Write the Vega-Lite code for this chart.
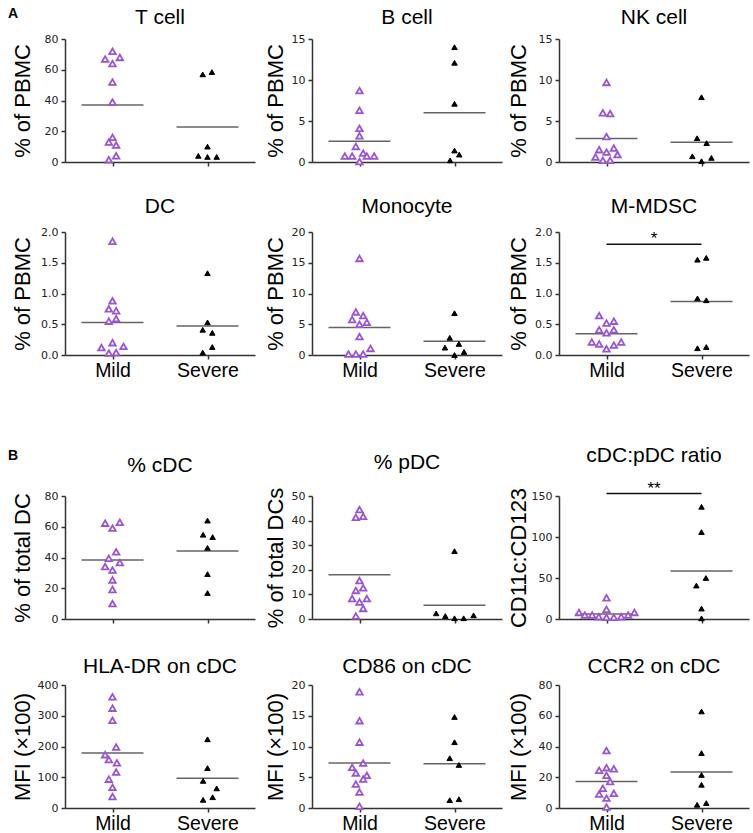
{
"$schema": "https://vega.github.io/schema/vega-lite/v6.json",
"padding": {"left": 7, "top": 7, "right": 2, "bottom": 0},
"config": {
  "view": {"stroke": null},
  "font": "Liberation Sans",
  "title": {"font": "Liberation Sans", "fontSize": 21, "fontWeight": "normal", "color": "#000"},
  "axis": {"domainColor": "#333", "domainWidth": 1.5, "tickColor": "#333", "tickWidth": 1.5, "tickSize": 4, "grid": false,
           "labelFont": "DejaVu Sans", "labelFontSize": 11, "labelColor": "#222",
           "titleFont": "Liberation Sans", "titleFontSize": 22, "titleFontWeight": "normal", "titleColor": "#000"},
  "axisX": {"labelFont": "Liberation Sans", "labelFontSize": 19.5, "labelColor": "#000", "labelPadding": 2, "labelAngle": 0},
  "axisY": {"titleAngle": -90, "titleAlign": "center", "titleBaseline": "middle", "titleY": 61.5, "labelPadding": 3}
},
"datasets": {
  "pts": [
    {"p":"T cell","g":"Mild","v":72,"j":0},{"p":"T cell","g":"Mild","v":67,"j":-2},{"p":"T cell","g":"Mild","v":68,"j":2},{"p":"T cell","g":"Mild","v":64,"j":0},{"p":"T cell","g":"Mild","v":52,"j":0},{"p":"T cell","g":"Mild","v":39,"j":0},{"p":"T cell","g":"Mild","v":16,"j":0},{"p":"T cell","g":"Mild","v":13,"j":-1},{"p":"T cell","g":"Mild","v":11,"j":1},{"p":"T cell","g":"Mild","v":4,"j":1},{"p":"T cell","g":"Mild","v":1.5,"j":-1},
    {"p":"T cell","g":"Severe","v":57,"j":-1.3},{"p":"T cell","g":"Severe","v":58.5,"j":1.2},{"p":"T cell","g":"Severe","v":10,"j":0},{"p":"T cell","g":"Severe","v":4,"j":-2.5},{"p":"T cell","g":"Severe","v":3.3,"j":0},{"p":"T cell","g":"Severe","v":3.3,"j":2.5},
    {"p":"B cell","g":"Mild","v":8.7,"j":0},{"p":"B cell","g":"Mild","v":6.3,"j":0},{"p":"B cell","g":"Mild","v":4.1,"j":0},{"p":"B cell","g":"Mild","v":3.2,"j":0},{"p":"B cell","g":"Mild","v":1.9,"j":-1},{"p":"B cell","g":"Mild","v":0.72,"j":-4},{"p":"B cell","g":"Mild","v":0.72,"j":-2},{"p":"B cell","g":"Mild","v":1.08,"j":1},{"p":"B cell","g":"Mild","v":0.72,"j":2},{"p":"B cell","g":"Mild","v":0.72,"j":4},{"p":"B cell","g":"Mild","v":0.05,"j":0},
    {"p":"B cell","g":"Severe","v":14,"j":0},{"p":"B cell","g":"Severe","v":12.1,"j":0},{"p":"B cell","g":"Severe","v":7.1,"j":0},{"p":"B cell","g":"Severe","v":1.4,"j":0},{"p":"B cell","g":"Severe","v":0.9,"j":1.3},{"p":"B cell","g":"Severe","v":0.2,"j":-1.2},
    {"p":"NK cell","g":"Mild","v":9.7,"j":0},{"p":"NK cell","g":"Mild","v":6.0,"j":-1},{"p":"NK cell","g":"Mild","v":5.9,"j":1},{"p":"NK cell","g":"Mild","v":3.1,"j":0},{"p":"NK cell","g":"Mild","v":1.5,"j":-2},{"p":"NK cell","g":"Mild","v":1.2,"j":0},{"p":"NK cell","g":"Mild","v":1.7,"j":2},{"p":"NK cell","g":"Mild","v":0.6,"j":-3},{"p":"NK cell","g":"Mild","v":0.9,"j":3},{"p":"NK cell","g":"Mild","v":0.2,"j":-1},{"p":"NK cell","g":"Mild","v":0.2,"j":1},
    {"p":"NK cell","g":"Severe","v":7.9,"j":0},{"p":"NK cell","g":"Severe","v":2.9,"j":-1.2},{"p":"NK cell","g":"Severe","v":2.3,"j":1.4},{"p":"NK cell","g":"Severe","v":0.7,"j":-2.5},{"p":"NK cell","g":"Severe","v":0.5,"j":2.7},{"p":"NK cell","g":"Severe","v":0.1,"j":0},
    {"p":"DC","g":"Mild","v":1.85,"j":0},{"p":"DC","g":"Mild","v":0.88,"j":0},{"p":"DC","g":"Mild","v":0.75,"j":-1},{"p":"DC","g":"Mild","v":0.72,"j":1},{"p":"DC","g":"Mild","v":0.55,"j":-1},{"p":"DC","g":"Mild","v":0.59,"j":1},{"p":"DC","g":"Mild","v":0.2,"j":0},{"p":"DC","g":"Mild","v":0.12,"j":-3},{"p":"DC","g":"Mild","v":0.14,"j":3},{"p":"DC","g":"Mild","v":0.03,"j":-1},{"p":"DC","g":"Mild","v":0.04,"j":1},
    {"p":"DC","g":"Severe","v":1.33,"j":0},{"p":"DC","g":"Severe","v":0.53,"j":0},{"p":"DC","g":"Severe","v":0.41,"j":-1.3},{"p":"DC","g":"Severe","v":0.36,"j":1.3},{"p":"DC","g":"Severe","v":0.13,"j":1.3},{"p":"DC","g":"Severe","v":0.04,"j":-1.3},
    {"p":"Monocyte","g":"Mild","v":15.7,"j":0},{"p":"Monocyte","g":"Mild","v":7.0,"j":-1},{"p":"Monocyte","g":"Mild","v":6.4,"j":1},{"p":"Monocyte","g":"Mild","v":5.76,"j":-2},{"p":"Monocyte","g":"Mild","v":5.0,"j":0},{"p":"Monocyte","g":"Mild","v":5.3,"j":2},{"p":"Monocyte","g":"Mild","v":3.0,"j":0},{"p":"Monocyte","g":"Mild","v":1.07,"j":3},{"p":"Monocyte","g":"Mild","v":0.16,"j":-3},{"p":"Monocyte","g":"Mild","v":0.16,"j":-1},{"p":"Monocyte","g":"Mild","v":0.16,"j":1},
    {"p":"Monocyte","g":"Severe","v":6.8,"j":0},{"p":"Monocyte","g":"Severe","v":2.8,"j":-1.3},{"p":"Monocyte","g":"Severe","v":1.8,"j":1.2},{"p":"Monocyte","g":"Severe","v":1.2,"j":-2.6},{"p":"Monocyte","g":"Severe","v":0.5,"j":2.6},{"p":"Monocyte","g":"Severe","v":0.0,"j":0},
    {"p":"M-MDSC","g":"Mild","v":0.64,"j":-2},{"p":"M-MDSC","g":"Mild","v":0.52,"j":0},{"p":"M-MDSC","g":"Mild","v":0.55,"j":2},{"p":"M-MDSC","g":"Mild","v":0.41,"j":-2},{"p":"M-MDSC","g":"Mild","v":0.36,"j":0},{"p":"M-MDSC","g":"Mild","v":0.41,"j":2},{"p":"M-MDSC","g":"Mild","v":0.21,"j":-4},{"p":"M-MDSC","g":"Mild","v":0.18,"j":-2},{"p":"M-MDSC","g":"Mild","v":0.21,"j":4},{"p":"M-MDSC","g":"Mild","v":0.16,"j":2},{"p":"M-MDSC","g":"Mild","v":0.1,"j":0},
    {"p":"M-MDSC","g":"Severe","v":1.55,"j":-1.1},{"p":"M-MDSC","g":"Severe","v":1.58,"j":1.3},{"p":"M-MDSC","g":"Severe","v":0.92,"j":-1.1},{"p":"M-MDSC","g":"Severe","v":0.89,"j":1.3},{"p":"M-MDSC","g":"Severe","v":0.11,"j":-1.1},{"p":"M-MDSC","g":"Severe","v":0.13,"j":1.3},
    {"p":"% cDC","g":"Mild","v":62.3,"j":-2},{"p":"% cDC","g":"Mild","v":62.9,"j":2},{"p":"% cDC","g":"Mild","v":59.1,"j":0},{"p":"% cDC","g":"Mild","v":43.7,"j":1},{"p":"% cDC","g":"Mild","v":39.5,"j":-1},{"p":"% cDC","g":"Mild","v":34.1,"j":-2},{"p":"% cDC","g":"Mild","v":36.7,"j":2},{"p":"% cDC","g":"Mild","v":31.8,"j":0},{"p":"% cDC","g":"Mild","v":25.4,"j":0},{"p":"% cDC","g":"Mild","v":19.2,"j":0},{"p":"% cDC","g":"Mild","v":10.0,"j":0},
    {"p":"% cDC","g":"Severe","v":64,"j":0},{"p":"% cDC","g":"Severe","v":54.8,"j":-1.2},{"p":"% cDC","g":"Severe","v":53.3,"j":1.4},{"p":"% cDC","g":"Severe","v":46.3,"j":0},{"p":"% cDC","g":"Severe","v":29.2,"j":0},{"p":"% cDC","g":"Severe","v":16.9,"j":0},
    {"p":"% pDC","g":"Mild","v":44.5,"j":0},{"p":"% pDC","g":"Mild","v":41.3,"j":-1},{"p":"% pDC","g":"Mild","v":41.7,"j":1},{"p":"% pDC","g":"Mild","v":15.6,"j":0},{"p":"% pDC","g":"Mild","v":11.6,"j":-1},{"p":"% pDC","g":"Mild","v":12.7,"j":1},{"p":"% pDC","g":"Mild","v":8.3,"j":-2},{"p":"% pDC","g":"Mild","v":8.3,"j":2},{"p":"% pDC","g":"Mild","v":6.9,"j":0},{"p":"% pDC","g":"Mild","v":4.3,"j":1},{"p":"% pDC","g":"Mild","v":1.2,"j":-1},
    {"p":"% pDC","g":"Severe","v":27.6,"j":0},{"p":"% pDC","g":"Severe","v":2.3,"j":-5},{"p":"% pDC","g":"Severe","v":1.2,"j":-2.5},{"p":"% pDC","g":"Severe","v":0.3,"j":0},{"p":"% pDC","g":"Severe","v":0.3,"j":2.5},{"p":"% pDC","g":"Severe","v":1.5,"j":5.2},
    {"p":"cDC:pDC ratio","g":"Mild","v":25.9,"j":0},{"p":"cDC:pDC ratio","g":"Mild","v":11.9,"j":0},{"p":"cDC:pDC ratio","g":"Mild","v":8.0,"j":-7.5},{"p":"cDC:pDC ratio","g":"Mild","v":4.8,"j":-5.9},{"p":"cDC:pDC ratio","g":"Mild","v":4.8,"j":-3.9},{"p":"cDC:pDC ratio","g":"Mild","v":2.8,"j":-2.1},{"p":"cDC:pDC ratio","g":"Mild","v":2.0,"j":0},{"p":"cDC:pDC ratio","g":"Mild","v":2.0,"j":2},{"p":"cDC:pDC ratio","g":"Mild","v":2.8,"j":4},{"p":"cDC:pDC ratio","g":"Mild","v":4.8,"j":5.9},{"p":"cDC:pDC ratio","g":"Mild","v":8.0,"j":7.6},
    {"p":"cDC:pDC ratio","g":"Severe","v":136.8,"j":0},{"p":"cDC:pDC ratio","g":"Severe","v":106,"j":0},{"p":"cDC:pDC ratio","g":"Severe","v":50,"j":1.2},{"p":"cDC:pDC ratio","g":"Severe","v":40.8,"j":-1.4},{"p":"cDC:pDC ratio","g":"Severe","v":12.7,"j":0},{"p":"cDC:pDC ratio","g":"Severe","v":0.8,"j":0},
    {"p":"HLA-DR on cDC","g":"Mild","v":361.7,"j":0},{"p":"HLA-DR on cDC","g":"Mild","v":324.5,"j":0},{"p":"HLA-DR on cDC","g":"Mild","v":285,"j":0},{"p":"HLA-DR on cDC","g":"Mild","v":198,"j":1},{"p":"HLA-DR on cDC","g":"Mild","v":173.4,"j":-2},{"p":"HLA-DR on cDC","g":"Mild","v":157.4,"j":-1},{"p":"HLA-DR on cDC","g":"Mild","v":146.8,"j":1.2},{"p":"HLA-DR on cDC","g":"Mild","v":117,"j":1},{"p":"HLA-DR on cDC","g":"Mild","v":93.6,"j":-1},{"p":"HLA-DR on cDC","g":"Mild","v":67,"j":0},{"p":"HLA-DR on cDC","g":"Mild","v":37.2,"j":0},
    {"p":"HLA-DR on cDC","g":"Severe","v":223.4,"j":0},{"p":"HLA-DR on cDC","g":"Severe","v":129.8,"j":0},{"p":"HLA-DR on cDC","g":"Severe","v":88.3,"j":-1.2},{"p":"HLA-DR on cDC","g":"Severe","v":63.8,"j":2.5},{"p":"HLA-DR on cDC","g":"Severe","v":35.1,"j":1.4},{"p":"HLA-DR on cDC","g":"Severe","v":26.6,"j":-1.2},
    {"p":"CD86 on cDC","g":"Mild","v":18.9,"j":0},{"p":"CD86 on cDC","g":"Mild","v":14.2,"j":0},{"p":"CD86 on cDC","g":"Mild","v":10.7,"j":0},{"p":"CD86 on cDC","g":"Mild","v":7.3,"j":1},{"p":"CD86 on cDC","g":"Mild","v":6.6,"j":-2},{"p":"CD86 on cDC","g":"Mild","v":5.7,"j":-1},{"p":"CD86 on cDC","g":"Mild","v":5.3,"j":2},{"p":"CD86 on cDC","g":"Mild","v":4.7,"j":1},{"p":"CD86 on cDC","g":"Mild","v":3.9,"j":-1},{"p":"CD86 on cDC","g":"Mild","v":2.6,"j":0},{"p":"CD86 on cDC","g":"Mild","v":0.27,"j":0},
    {"p":"CD86 on cDC","g":"Severe","v":14.8,"j":0},{"p":"CD86 on cDC","g":"Severe","v":10.7,"j":0},{"p":"CD86 on cDC","g":"Severe","v":8.1,"j":-1.3},{"p":"CD86 on cDC","g":"Severe","v":7.0,"j":1.2},{"p":"CD86 on cDC","g":"Severe","v":1.27,"j":-1.3},{"p":"CD86 on cDC","g":"Severe","v":1.43,"j":1.2},
    {"p":"CCR2 on cDC","g":"Mild","v":37.4,"j":0},{"p":"CCR2 on cDC","g":"Mild","v":26.2,"j":0},{"p":"CCR2 on cDC","g":"Mild","v":24.5,"j":-2},{"p":"CCR2 on cDC","g":"Mild","v":25.5,"j":2},{"p":"CCR2 on cDC","g":"Mild","v":21.3,"j":0},{"p":"CCR2 on cDC","g":"Mild","v":17.2,"j":1},{"p":"CCR2 on cDC","g":"Mild","v":12.8,"j":-1},{"p":"CCR2 on cDC","g":"Mild","v":9.1,"j":-2},{"p":"CCR2 on cDC","g":"Mild","v":9.6,"j":2},{"p":"CCR2 on cDC","g":"Mild","v":6.4,"j":0},{"p":"CCR2 on cDC","g":"Mild","v":0.6,"j":0},
    {"p":"CCR2 on cDC","g":"Severe","v":62.8,"j":0},{"p":"CCR2 on cDC","g":"Severe","v":35.7,"j":0},{"p":"CCR2 on cDC","g":"Severe","v":21.5,"j":0},{"p":"CCR2 on cDC","g":"Severe","v":15.1,"j":0},{"p":"CCR2 on cDC","g":"Severe","v":2.1,"j":-1.2},{"p":"CCR2 on cDC","g":"Severe","v":3.2,"j":1.3}
  ],
  "means": [
    {"p":"T cell","g":"Mild","v":37},{"p":"T cell","g":"Severe","v":22.8},
    {"p":"B cell","g":"Mild","v":2.52},{"p":"B cell","g":"Severe","v":6.0},
    {"p":"NK cell","g":"Mild","v":2.88},{"p":"NK cell","g":"Severe","v":2.4},
    {"p":"DC","g":"Mild","v":0.53},{"p":"DC","g":"Severe","v":0.47},
    {"p":"Monocyte","g":"Mild","v":4.48},{"p":"Monocyte","g":"Severe","v":2.24},
    {"p":"M-MDSC","g":"Mild","v":0.347},{"p":"M-MDSC","g":"Severe","v":0.87},
    {"p":"% cDC","g":"Mild","v":38.4},{"p":"% cDC","g":"Severe","v":44.2},
    {"p":"% pDC","g":"Mild","v":18.0},{"p":"% pDC","g":"Severe","v":5.6},
    {"p":"cDC:pDC ratio","g":"Mild","v":6.0},{"p":"cDC:pDC ratio","g":"Severe","v":58.5},
    {"p":"HLA-DR on cDC","g":"Mild","v":178.7},{"p":"HLA-DR on cDC","g":"Severe","v":96.8},
    {"p":"CD86 on cDC","g":"Mild","v":7.32},{"p":"CD86 on cDC","g":"Severe","v":7.2},
    {"p":"CCR2 on cDC","g":"Mild","v":17.2},{"p":"CCR2 on cDC","g":"Severe","v":23.4}
  ],
  "sig": [
    {"p":"M-MDSC","g":"Mild","g2":"Severe","v":1.8,"t":"*"},
    {"p":"cDC:pDC ratio","g":"Mild","g2":"Severe","v":153,"t":"**"}
  ]
},
"spacing": 64,
"vconcat": [
 {
  "title": {"text": "A", "anchor": "start", "frame": "bounds", "fontSize": 14, "fontWeight": "bold", "offset": -18, "dx": -3, "dy": -4},
  "columns": 3, "bounds": "flush", "spacing": {"row": 70, "column": 57},
  "concat": [
   {"width":190,"height":123,"title":{"text":"T cell","offset":5},
    "encoding":{"x":{"field":"g","type":"nominal","scale":{"type":"point","domain":["Mild","Severe"],"padding":0.5},"axis":{"title":null,"labels":false}},
                "y":{"field":"v","type":"quantitative","scale":{"domain":[0,80],"nice":false},"axis":{"title":"% of PBMC","values":[0,20,40,60,80],"titleX":-43}}},
    "layer":[
     {"data":{"name":"means"},"transform":[{"filter":"datum.p === 'T cell'"}],"mark":{"type":"tick","size":62,"thickness":1.5,"color":"#222"}},
     {"data":{"name":"pts"},"transform":[{"filter":"datum.p === 'T cell'"}],"mark":{"type":"point","shape":"triangle-up","filled":true,"opacity":1},
      "encoding":{"xOffset":{"field":"j","type":"quantitative","scale":{"domain":[-10,10],"range":[-36.7,36.7]}},
                  "fill":{"field":"g","type":"nominal","scale":{"domain":["Mild","Severe"],"range":["#ffffff","#000000"]},"legend":null},
                  "stroke":{"field":"g","type":"nominal","scale":{"domain":["Mild","Severe"],"range":["#9B55D4","#000000"]},"legend":null},
                  "size":{"field":"g","type":"ordinal","scale":{"domain":["Mild","Severe"],"range":[42,30]},"legend":null},
                  "strokeWidth":{"field":"g","type":"ordinal","scale":{"domain":["Mild","Severe"],"range":[1.8,1]},"legend":null}}}
    ]},
   {"width":190,"height":123,"title":{"text":"B cell","offset":5},
    "encoding":{"x":{"field":"g","type":"nominal","scale":{"type":"point","domain":["Mild","Severe"],"padding":0.5},"axis":{"title":null,"labels":false}},
                "y":{"field":"v","type":"quantitative","scale":{"domain":[0,15],"nice":false},"axis":{"title":"% of PBMC","values":[0,5,10,15],"titleX":-37}}},
    "layer":[
     {"data":{"name":"means"},"transform":[{"filter":"datum.p === 'B cell'"}],"mark":{"type":"tick","size":62,"thickness":1.5,"color":"#222"}},
     {"data":{"name":"pts"},"transform":[{"filter":"datum.p === 'B cell'"}],"mark":{"type":"point","shape":"triangle-up","filled":true,"opacity":1},
      "encoding":{"xOffset":{"field":"j","type":"quantitative","scale":{"domain":[-10,10],"range":[-36.7,36.7]}},
                  "fill":{"field":"g","type":"nominal","scale":{"domain":["Mild","Severe"],"range":["#ffffff","#000000"]},"legend":null},
                  "stroke":{"field":"g","type":"nominal","scale":{"domain":["Mild","Severe"],"range":["#9B55D4","#000000"]},"legend":null},
                  "size":{"field":"g","type":"ordinal","scale":{"domain":["Mild","Severe"],"range":[42,30]},"legend":null},
                  "strokeWidth":{"field":"g","type":"ordinal","scale":{"domain":["Mild","Severe"],"range":[1.8,1]},"legend":null}}}
    ]},
   {"width":190,"height":123,"title":{"text":"NK cell","offset":5},
    "encoding":{"x":{"field":"g","type":"nominal","scale":{"type":"point","domain":["Mild","Severe"],"padding":0.5},"axis":{"title":null,"labels":false}},
                "y":{"field":"v","type":"quantitative","scale":{"domain":[0,15],"nice":false},"axis":{"title":"% of PBMC","values":[0,5,10,15],"titleX":-41}}},
    "layer":[
     {"data":{"name":"means"},"transform":[{"filter":"datum.p === 'NK cell'"}],"mark":{"type":"tick","size":62,"thickness":1.5,"color":"#222"}},
     {"data":{"name":"pts"},"transform":[{"filter":"datum.p === 'NK cell'"}],"mark":{"type":"point","shape":"triangle-up","filled":true,"opacity":1},
      "encoding":{"xOffset":{"field":"j","type":"quantitative","scale":{"domain":[-10,10],"range":[-36.7,36.7]}},
                  "fill":{"field":"g","type":"nominal","scale":{"domain":["Mild","Severe"],"range":["#ffffff","#000000"]},"legend":null},
                  "stroke":{"field":"g","type":"nominal","scale":{"domain":["Mild","Severe"],"range":["#9B55D4","#000000"]},"legend":null},
                  "size":{"field":"g","type":"ordinal","scale":{"domain":["Mild","Severe"],"range":[42,30]},"legend":null},
                  "strokeWidth":{"field":"g","type":"ordinal","scale":{"domain":["Mild","Severe"],"range":[1.8,1]},"legend":null}}}
    ]},
   {"width":190,"height":123,"title":{"text":"DC","offset":9},
    "encoding":{"x":{"field":"g","type":"nominal","scale":{"type":"point","domain":["Mild","Severe"],"padding":0.5},"axis":{"title":null}},
                "y":{"field":"v","type":"quantitative","scale":{"domain":[0,2],"nice":false},"axis":{"title":"% of PBMC","values":[0,0.5,1,1.5,2],"format":".1f","titleX":-43}}},
    "layer":[
     {"data":{"name":"means"},"transform":[{"filter":"datum.p === 'DC'"}],"mark":{"type":"tick","size":62,"thickness":1.5,"color":"#222"}},
     {"data":{"name":"pts"},"transform":[{"filter":"datum.p === 'DC'"}],"mark":{"type":"point","shape":"triangle-up","filled":true,"opacity":1},
      "encoding":{"xOffset":{"field":"j","type":"quantitative","scale":{"domain":[-10,10],"range":[-36.7,36.7]}},
                  "fill":{"field":"g","type":"nominal","scale":{"domain":["Mild","Severe"],"range":["#ffffff","#000000"]},"legend":null},
                  "stroke":{"field":"g","type":"nominal","scale":{"domain":["Mild","Severe"],"range":["#9B55D4","#000000"]},"legend":null},
                  "size":{"field":"g","type":"ordinal","scale":{"domain":["Mild","Severe"],"range":[42,30]},"legend":null},
                  "strokeWidth":{"field":"g","type":"ordinal","scale":{"domain":["Mild","Severe"],"range":[1.8,1]},"legend":null}}}
    ]},
   {"width":190,"height":123,"title":{"text":"Monocyte","offset":9},
    "encoding":{"x":{"field":"g","type":"nominal","scale":{"type":"point","domain":["Mild","Severe"],"padding":0.5},"axis":{"title":null}},
                "y":{"field":"v","type":"quantitative","scale":{"domain":[0,20],"nice":false},"axis":{"title":"% of PBMC","values":[0,5,10,15,20],"titleX":-37}}},
    "layer":[
     {"data":{"name":"means"},"transform":[{"filter":"datum.p === 'Monocyte'"}],"mark":{"type":"tick","size":62,"thickness":1.5,"color":"#222"}},
     {"data":{"name":"pts"},"transform":[{"filter":"datum.p === 'Monocyte'"}],"mark":{"type":"point","shape":"triangle-up","filled":true,"opacity":1},
      "encoding":{"xOffset":{"field":"j","type":"quantitative","scale":{"domain":[-10,10],"range":[-36.7,36.7]}},
                  "fill":{"field":"g","type":"nominal","scale":{"domain":["Mild","Severe"],"range":["#ffffff","#000000"]},"legend":null},
                  "stroke":{"field":"g","type":"nominal","scale":{"domain":["Mild","Severe"],"range":["#9B55D4","#000000"]},"legend":null},
                  "size":{"field":"g","type":"ordinal","scale":{"domain":["Mild","Severe"],"range":[42,30]},"legend":null},
                  "strokeWidth":{"field":"g","type":"ordinal","scale":{"domain":["Mild","Severe"],"range":[1.8,1]},"legend":null}}}
    ]},
   {"width":190,"height":123,"title":{"text":"M-MDSC","offset":9},
    "encoding":{"x":{"field":"g","type":"nominal","scale":{"type":"point","domain":["Mild","Severe"],"padding":0.5},"axis":{"title":null}},
                "y":{"field":"v","type":"quantitative","scale":{"domain":[0,2],"nice":false},"axis":{"title":"% of PBMC","values":[0,0.5,1,1.5,2],"format":".1f","titleX":-41}}},
    "layer":[
     {"data":{"name":"means"},"transform":[{"filter":"datum.p === 'M-MDSC'"}],"mark":{"type":"tick","size":62,"thickness":1.5,"color":"#222"}},
     {"data":{"name":"pts"},"transform":[{"filter":"datum.p === 'M-MDSC'"}],"mark":{"type":"point","shape":"triangle-up","filled":true,"opacity":1},
      "encoding":{"xOffset":{"field":"j","type":"quantitative","scale":{"domain":[-10,10],"range":[-36.7,36.7]}},
                  "fill":{"field":"g","type":"nominal","scale":{"domain":["Mild","Severe"],"range":["#ffffff","#000000"]},"legend":null},
                  "stroke":{"field":"g","type":"nominal","scale":{"domain":["Mild","Severe"],"range":["#9B55D4","#000000"]},"legend":null},
                  "size":{"field":"g","type":"ordinal","scale":{"domain":["Mild","Severe"],"range":[42,30]},"legend":null},
                  "strokeWidth":{"field":"g","type":"ordinal","scale":{"domain":["Mild","Severe"],"range":[1.8,1]},"legend":null}}},
     {"data":{"name":"sig"},"transform":[{"filter":"datum.p === 'M-MDSC'"}],"mark":{"type":"rule","color":"#111","strokeWidth":1.5},
      "encoding":{"x2":{"field":"g2"}}},
     {"data":{"name":"sig"},"transform":[{"filter":"datum.p === 'M-MDSC'"}],"mark":{"type":"text","dx":47.5,"dy":-5,"baseline":"middle","fontSize":17,"font":"Liberation Sans","color":"#000"},
      "encoding":{"text":{"field":"t"}}}
    ]}
  ]
 },
 {
  "title": {"text": "B", "anchor": "start", "frame": "bounds", "fontSize": 14, "fontWeight": "bold", "offset": -18, "dx": -3},
  "columns": 3, "bounds": "flush", "spacing": {"row": 66, "column": 57},
  "concat": [
   {"width":190,"height":123,"title":{"text":"% cDC","offset":14},
    "encoding":{"x":{"field":"g","type":"nominal","scale":{"type":"point","domain":["Mild","Severe"],"padding":0.5},"axis":{"title":null,"labels":false}},
                "y":{"field":"v","type":"quantitative","scale":{"domain":[0,80],"nice":false},"axis":{"title":"% of total DC","values":[0,20,40,60,80],"titleX":-43}}},
    "layer":[
     {"data":{"name":"means"},"transform":[{"filter":"datum.p === '% cDC'"}],"mark":{"type":"tick","size":62,"thickness":1.5,"color":"#222"}},
     {"data":{"name":"pts"},"transform":[{"filter":"datum.p === '% cDC'"}],"mark":{"type":"point","shape":"triangle-up","filled":true,"opacity":1},
      "encoding":{"xOffset":{"field":"j","type":"quantitative","scale":{"domain":[-10,10],"range":[-36.7,36.7]}},
                  "fill":{"field":"g","type":"nominal","scale":{"domain":["Mild","Severe"],"range":["#ffffff","#000000"]},"legend":null},
                  "stroke":{"field":"g","type":"nominal","scale":{"domain":["Mild","Severe"],"range":["#9B55D4","#000000"]},"legend":null},
                  "size":{"field":"g","type":"ordinal","scale":{"domain":["Mild","Severe"],"range":[42,30]},"legend":null},
                  "strokeWidth":{"field":"g","type":"ordinal","scale":{"domain":["Mild","Severe"],"range":[1.8,1]},"legend":null}}}
    ]},
   {"width":190,"height":123,"title":{"text":"% pDC","offset":14},
    "encoding":{"x":{"field":"g","type":"nominal","scale":{"type":"point","domain":["Mild","Severe"],"padding":0.5},"axis":{"title":null,"labels":false}},
                "y":{"field":"v","type":"quantitative","scale":{"domain":[0,50],"nice":false},"axis":{"title":"% of total DCs","values":[0,10,20,30,40,50],"titleX":-37}}},
    "layer":[
     {"data":{"name":"means"},"transform":[{"filter":"datum.p === '% pDC'"}],"mark":{"type":"tick","size":62,"thickness":1.5,"color":"#222"}},
     {"data":{"name":"pts"},"transform":[{"filter":"datum.p === '% pDC'"}],"mark":{"type":"point","shape":"triangle-up","filled":true,"opacity":1},
      "encoding":{"xOffset":{"field":"j","type":"quantitative","scale":{"domain":[-10,10],"range":[-36.7,36.7]}},
                  "fill":{"field":"g","type":"nominal","scale":{"domain":["Mild","Severe"],"range":["#ffffff","#000000"]},"legend":null},
                  "stroke":{"field":"g","type":"nominal","scale":{"domain":["Mild","Severe"],"range":["#9B55D4","#000000"]},"legend":null},
                  "size":{"field":"g","type":"ordinal","scale":{"domain":["Mild","Severe"],"range":[42,30]},"legend":null},
                  "strokeWidth":{"field":"g","type":"ordinal","scale":{"domain":["Mild","Severe"],"range":[1.8,1]},"legend":null}}}
    ]},
   {"width":190,"height":123,"title":{"text":"cDC:pDC ratio","offset":14},
    "encoding":{"x":{"field":"g","type":"nominal","scale":{"type":"point","domain":["Mild","Severe"],"padding":0.5},"axis":{"title":null,"labels":false}},
                "y":{"field":"v","type":"quantitative","scale":{"domain":[0,150],"nice":false},"axis":{"title":"CD11c:CD123","values":[0,50,100,150],"titleX":-41}}},
    "layer":[
     {"data":{"name":"means"},"transform":[{"filter":"datum.p === 'cDC:pDC ratio'"}],"mark":{"type":"tick","size":62,"thickness":1.5,"color":"#222"}},
     {"data":{"name":"pts"},"transform":[{"filter":"datum.p === 'cDC:pDC ratio'"}],"mark":{"type":"point","shape":"triangle-up","filled":true,"opacity":1},
      "encoding":{"xOffset":{"field":"j","type":"quantitative","scale":{"domain":[-10,10],"range":[-36.7,36.7]}},
                  "fill":{"field":"g","type":"nominal","scale":{"domain":["Mild","Severe"],"range":["#ffffff","#000000"]},"legend":null},
                  "stroke":{"field":"g","type":"nominal","scale":{"domain":["Mild","Severe"],"range":["#9B55D4","#000000"]},"legend":null},
                  "size":{"field":"g","type":"ordinal","scale":{"domain":["Mild","Severe"],"range":[42,30]},"legend":null},
                  "strokeWidth":{"field":"g","type":"ordinal","scale":{"domain":["Mild","Severe"],"range":[1.8,1]},"legend":null}}},
     {"data":{"name":"sig"},"transform":[{"filter":"datum.p === 'cDC:pDC ratio'"}],"mark":{"type":"rule","color":"#111","strokeWidth":1.5},
      "encoding":{"x2":{"field":"g2"}}},
     {"data":{"name":"sig"},"transform":[{"filter":"datum.p === 'cDC:pDC ratio'"}],"mark":{"type":"text","dx":47.5,"dy":-5,"baseline":"middle","fontSize":17,"font":"Liberation Sans","color":"#000"},
      "encoding":{"text":{"field":"t"}}}
    ]},
   {"width":190,"height":123,"title":{"text":"HLA-DR on cDC","offset":2},
    "encoding":{"x":{"field":"g","type":"nominal","scale":{"type":"point","domain":["Mild","Severe"],"padding":0.5},"axis":{"title":null}},
                "y":{"field":"v","type":"quantitative","scale":{"domain":[0,400],"nice":false},"axis":{"title":"MFI (×100)","values":[0,100,200,300,400],"titleX":-43}}},
    "layer":[
     {"data":{"name":"means"},"transform":[{"filter":"datum.p === 'HLA-DR on cDC'"}],"mark":{"type":"tick","size":62,"thickness":1.5,"color":"#222"}},
     {"data":{"name":"pts"},"transform":[{"filter":"datum.p === 'HLA-DR on cDC'"}],"mark":{"type":"point","shape":"triangle-up","filled":true,"opacity":1},
      "encoding":{"xOffset":{"field":"j","type":"quantitative","scale":{"domain":[-10,10],"range":[-36.7,36.7]}},
                  "fill":{"field":"g","type":"nominal","scale":{"domain":["Mild","Severe"],"range":["#ffffff","#000000"]},"legend":null},
                  "stroke":{"field":"g","type":"nominal","scale":{"domain":["Mild","Severe"],"range":["#9B55D4","#000000"]},"legend":null},
                  "size":{"field":"g","type":"ordinal","scale":{"domain":["Mild","Severe"],"range":[42,30]},"legend":null},
                  "strokeWidth":{"field":"g","type":"ordinal","scale":{"domain":["Mild","Severe"],"range":[1.8,1]},"legend":null}}}
    ]},
   {"width":190,"height":123,"title":{"text":"CD86 on cDC","offset":2},
    "encoding":{"x":{"field":"g","type":"nominal","scale":{"type":"point","domain":["Mild","Severe"],"padding":0.5},"axis":{"title":null}},
                "y":{"field":"v","type":"quantitative","scale":{"domain":[0,20],"nice":false},"axis":{"title":"MFI (×100)","values":[0,5,10,15,20],"titleX":-37}}},
    "layer":[
     {"data":{"name":"means"},"transform":[{"filter":"datum.p === 'CD86 on cDC'"}],"mark":{"type":"tick","size":62,"thickness":1.5,"color":"#222"}},
     {"data":{"name":"pts"},"transform":[{"filter":"datum.p === 'CD86 on cDC'"}],"mark":{"type":"point","shape":"triangle-up","filled":true,"opacity":1},
      "encoding":{"xOffset":{"field":"j","type":"quantitative","scale":{"domain":[-10,10],"range":[-36.7,36.7]}},
                  "fill":{"field":"g","type":"nominal","scale":{"domain":["Mild","Severe"],"range":["#ffffff","#000000"]},"legend":null},
                  "stroke":{"field":"g","type":"nominal","scale":{"domain":["Mild","Severe"],"range":["#9B55D4","#000000"]},"legend":null},
                  "size":{"field":"g","type":"ordinal","scale":{"domain":["Mild","Severe"],"range":[42,30]},"legend":null},
                  "strokeWidth":{"field":"g","type":"ordinal","scale":{"domain":["Mild","Severe"],"range":[1.8,1]},"legend":null}}}
    ]},
   {"width":190,"height":123,"title":{"text":"CCR2 on cDC","offset":2},
    "encoding":{"x":{"field":"g","type":"nominal","scale":{"type":"point","domain":["Mild","Severe"],"padding":0.5},"axis":{"title":null}},
                "y":{"field":"v","type":"quantitative","scale":{"domain":[0,80],"nice":false},"axis":{"title":"MFI (×100)","values":[0,20,40,60,80],"titleX":-41}}},
    "layer":[
     {"data":{"name":"means"},"transform":[{"filter":"datum.p === 'CCR2 on cDC'"}],"mark":{"type":"tick","size":62,"thickness":1.5,"color":"#222"}},
     {"data":{"name":"pts"},"transform":[{"filter":"datum.p === 'CCR2 on cDC'"}],"mark":{"type":"point","shape":"triangle-up","filled":true,"opacity":1},
      "encoding":{"xOffset":{"field":"j","type":"quantitative","scale":{"domain":[-10,10],"range":[-36.7,36.7]}},
                  "fill":{"field":"g","type":"nominal","scale":{"domain":["Mild","Severe"],"range":["#ffffff","#000000"]},"legend":null},
                  "stroke":{"field":"g","type":"nominal","scale":{"domain":["Mild","Severe"],"range":["#9B55D4","#000000"]},"legend":null},
                  "size":{"field":"g","type":"ordinal","scale":{"domain":["Mild","Severe"],"range":[42,30]},"legend":null},
                  "strokeWidth":{"field":"g","type":"ordinal","scale":{"domain":["Mild","Severe"],"range":[1.8,1]},"legend":null}}}
    ]}
  ]
 }
]
}
